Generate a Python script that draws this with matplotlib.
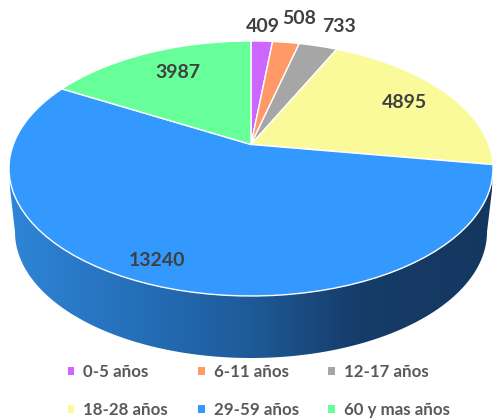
import numpy as np
import matplotlib
matplotlib.use("Agg")
import matplotlib.pyplot as plt
from matplotlib.transforms import Transform
from matplotlib.patches import Patch, PathPatch
from matplotlib.path import Path
from matplotlib.colors import LinearSegmentedColormap

categories = ["0-5 años", "6-11 años", "12-17 años", "18-28 años", "29-59 años", "60 y mas años"]
values = [409, 508, 733, 4895, 13240, 3987]
colors = ["#CC66FF", "#FF9966", "#A6A6A6", "#FBFA9B", "#3399FF", "#66FF99"]
label_xy = [(263, 26), (299, 19), (339, 26), (404, 103), (157, 260), (178, 72)]

W, H = 495, 418
CX, CY = 251, 144.5
A, B, K = 123.0, 237.7, 0.188


class Perspective(Transform):
    """Tilts the flat unit-circle pie into the page's pixel coordinates."""
    input_dims = output_dims = 2
    is_separable = False
    has_inverse = False

    def transform_non_affine(self, xy):
        xy = np.asarray(xy, dtype=float)
        d = 1 + K * xy[:, 1]
        return np.column_stack((CX + B * xy[:, 0] / d, CY - A * xy[:, 1] / d))


fig = plt.figure(figsize=(W / 100, H / 100), dpi=100)
ax = fig.add_axes([0, 0, 1, 1])

# side wall with its horizontal gradient
t = np.linspace(np.pi, 0, 200)
wall = np.vstack((
    [(9.5, 168), (10, 188)],
    np.column_stack((251 + 236 * np.cos(t), 232 + 126 * np.sin(t))),
    [(492, 190), (493, 165)],
))
cmap = LinearSegmentedColormap.from_list(
    "wall", [(0, "#2F85D8"), (0.25, "#2570BA"), (0.5, "#1E5A98"),
             (0.72, "#163C69"), (1, "#14375F")])
img = ax.imshow(np.linspace(0, 1, 256)[None, :], cmap=cmap, aspect="auto",
                extent=(9, 494, 360, 160), zorder=1)
clip = PathPatch(Path(np.vstack((wall, wall[:1])), closed=True), transform=ax.transData,
                 facecolor="none", edgecolor="none")
ax.add_patch(clip)
img.set_clip_path(clip)

# top of the pie
wedges, _ = ax.pie(values, colors=colors, startangle=90, counterclock=False,
                   wedgeprops=dict(edgecolor="white", linewidth=1.0))
persp = Perspective()
for w in wedges:
    w.set_transform(persp + ax.transData)
    w.set_clip_on(False)
    w.set_zorder(2)
    w.set_joinstyle("round")

ax.set_aspect("auto")
ax.set_xlim(0, W)
ax.set_ylim(H, 0)
ax.axis("off")

for v, (x, y) in zip(values, label_xy):
    ax.text(x, y, str(v), ha="center", va="center", fontsize=14, family="Lato",
            fontweight="bold", color="#404040", zorder=3)

order = [0, 3, 1, 4, 2, 5]
handles = [Patch(facecolor=colors[i], edgecolor="none", label=categories[i]) for i in order]
ax.legend(handles=handles, ncols=3, loc="upper left", bbox_to_anchor=(67.5 / W, 1 - 364 / H),
          frameon=False, borderpad=0, borderaxespad=0,
          handlelength=0.41, handleheight=0.41, handletextpad=0.53,
          columnspacing=1.74, labelspacing=1.3,
          prop=dict(family="Lato", weight="bold", size=12.2), labelcolor="#595959")

fig.savefig("out.png", dpi=100)
